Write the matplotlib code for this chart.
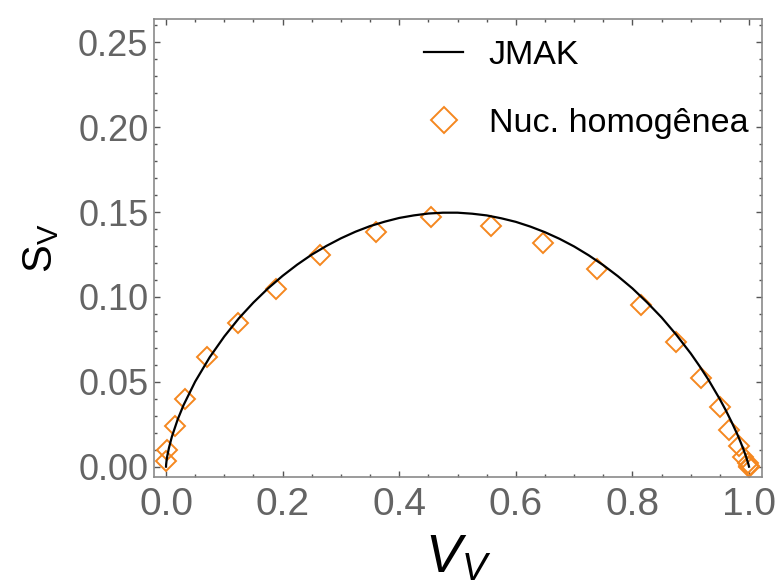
import matplotlib.pyplot as plt
from matplotlib.ticker import MultipleLocator, FormatStrFormatter

# JMAK curve
V_jmak = [0.0, 0.0002, 0.001, 0.002, 0.005, 0.01, 0.02, 0.03, 0.05, 0.075,
          0.1, 0.125, 0.15, 0.175, 0.2, 0.225, 0.25, 0.275, 0.3, 0.325, 0.35,
          0.375, 0.4, 0.425, 0.45, 0.475, 0.5, 0.525, 0.55, 0.575, 0.6, 0.625,
          0.65, 0.675, 0.7, 0.725, 0.75, 0.775, 0.8, 0.825, 0.85, 0.875, 0.9,
          0.915, 0.93, 0.95, 0.96, 0.97, 0.98, 0.985, 0.99, 0.995, 0.999,
          0.9998, 1.0]
S_jmak = [0.0, 0.0013, 0.0038, 0.006, 0.011, 0.0176, 0.0278, 0.0362, 0.0501,
          0.0645, 0.0767, 0.0874, 0.0967, 0.1050, 0.1124, 0.1190, 0.1249,
          0.1300, 0.1345, 0.1384, 0.1417, 0.1443, 0.1465, 0.1480, 0.1491,
          0.1496, 0.1496, 0.1490, 0.1480, 0.1463, 0.1442, 0.1414, 0.1381,
          0.1342, 0.1297, 0.1245, 0.1187, 0.1122, 0.1050, 0.0968, 0.0879,
          0.0778, 0.0667, 0.0593, 0.0514, 0.0397, 0.0333, 0.0264, 0.0190,
          0.0149, 0.0106, 0.0058, 0.0014, 0.0003, 0.0]

# simulated points, homogeneous nucleation
V_nuc = [0.0, 0.001, 0.015, 0.033, 0.070, 0.124, 0.189, 0.264, 0.360, 0.455,
         0.557, 0.647, 0.739, 0.814, 0.875, 0.918, 0.950, 0.965, 0.982, 0.990,
         0.998, 1.0, 1.0]
S_nuc = [0.0035, 0.0098, 0.024, 0.040, 0.0645, 0.0848, 0.1046, 0.1247, 0.1384,
         0.1472, 0.1418, 0.1316, 0.1163, 0.0952, 0.0736, 0.052, 0.035, 0.0216,
         0.0122, 0.0059, 0.002, 0.0005, 0.0]

plt.rcParams['font.family'] = ['Liberation Sans', 'DejaVu Sans']
plt.rcParams['mathtext.fontset'] = 'custom'
plt.rcParams['mathtext.rm'] = 'Liberation Sans'
plt.rcParams['mathtext.it'] = 'Liberation Sans:italic'

orange = '#F5871F'
frame = '#8a8a8a'

fig = plt.figure(figsize=(7.79, 5.86), dpi=100)
ax = fig.add_axes([0.1977, 0.186, 0.7805, 0.7816])

ax.plot(V_nuc, S_nuc, linestyle='none', marker='D', markersize=10.5,
        markerfacecolor='none', markeredgecolor=orange, markeredgewidth=1.4,
        clip_on=False, zorder=2, label='Nuc. homogênea')
ax.plot(V_jmak, S_jmak, color='black', linewidth=1.6, zorder=3, label='JMAK')

ax.set_xlim(-0.0206, 1.0223)
ax.set_ylim(-0.0061, 0.2637)

ax.xaxis.set_major_locator(MultipleLocator(0.2))
ax.xaxis.set_minor_locator(MultipleLocator(0.05))
ax.yaxis.set_major_locator(MultipleLocator(0.05))
ax.yaxis.set_minor_locator(MultipleLocator(0.01))
ax.xaxis.set_major_formatter(FormatStrFormatter('%.1f'))
ax.yaxis.set_major_formatter(FormatStrFormatter('%.2f'))

for s in ax.spines.values():
    s.set_color(frame)
    s.set_linewidth(1.2)

ax.tick_params(which='both', direction='in', top=True, right=True,
               color='#555555', width=1.0)
ax.tick_params(which='major', length=4)
ax.tick_params(which='minor', length=2.3)
ax.tick_params(axis='x', which='major', labelsize=28, labelcolor='#646464', pad=7)
ax.tick_params(axis='y', which='major', labelsize=26, labelcolor='#646464', pad=4)

ax.set_xlabel(r'$\mathit{V}_{\mathit{V}}$', fontsize=39, labelpad=8)
ax.set_ylabel(r'$\mathrm{S}_\mathrm{V}$', fontsize=30, labelpad=12)

handles, labels = ax.get_legend_handles_labels()
ax.legend(handles[::-1], labels[::-1], loc='upper left',
          bbox_to_anchor=(0.444, 0.955), frameon=False, fontsize=24.5,
          borderpad=0, borderaxespad=0, handlelength=1.15, handletextpad=0.75,
          labelspacing=1.1, markerscale=1.3)

fig.savefig('out.png', dpi=100)
